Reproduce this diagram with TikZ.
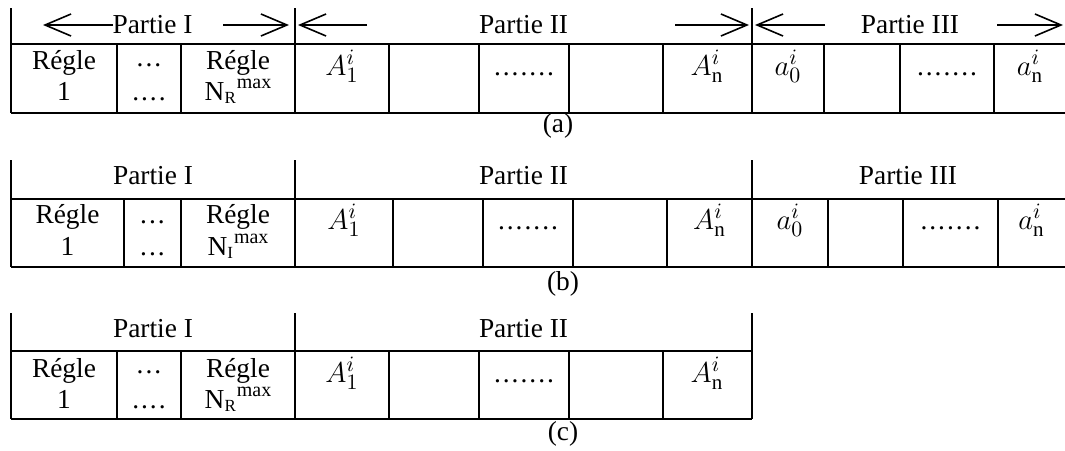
\documentclass[tikz,border=0pt]{standalone}
\usepackage{fontspec}
\setmainfont{Liberation Serif}
\usepackage{tikz}
\usetikzlibrary{
  positioning,
  arrows.meta
}
\DeclareMathSizes{13.7}{13.7}{10.5}{8}
\tikzset{
  grid/.style={line width=1.2pt},
  cell/.style={inner sep=0pt,anchor=base,font=\fontsize{13.7}{15}\selectfont},
  part/.style={inner sep=0pt,anchor=base,font=\fontsize{13.7}{15}\selectfont},
  span/.style={-{Straight Barb[length=13pt,width=11pt]},line width=0.8pt}
}
\newcommand{\Nmax}[1]{N\raisebox{-1.5pt}{\fontsize{8.5}{9}\selectfont #1}\kern0.5pt\raisebox{6pt}{\fontsize{10}{10}\selectfont max}}
\newcommand{\dotsthree}{.\kern1pt.\kern1pt.}
\newcommand{\dotsfour}{\dotsthree\kern1pt.}
\newcommand{\dotsseven}{\dotsfour\kern1pt\dotsthree}

\begin{document}
\begin{tikzpicture}[x=0.5pt,y=-0.5pt]
  \useasboundingbox (0,0) rectangle (1065,450);
  % (a) avec fleches
  \draw[grid] (11,8) -- (11,113) (295,8) -- (295,113) (752,8) -- (752,113);
  \draw[grid] (11,44) -- (1065,44) (11,113) -- (1065,113);
  \foreach \x in {117,181,389,479,569,663,824,900,994}
    \draw[grid] (\x,44) -- (\x,113);
  \node[part] (aP1) at (152.5,33) {Partie I};
  \node[part] (aP2) at (523.5,33) {Partie II};
  \node[part] (aP3) at (910,33) {Partie III};
  \coordinate (aP1a) at (113,25); \coordinate (aP1b) at (43,25);
  \coordinate (aP1c) at (223,25); \coordinate (aP1d) at (289,25);
  \coordinate (aP2a) at (367,25); \coordinate (aP2b) at (298,25);
  \coordinate (aP2c) at (675,25); \coordinate (aP2d) at (749,25);
  \coordinate (aP3a) at (825,25); \coordinate (aP3b) at (755,25);
  \coordinate (aP3c) at (997,25); \coordinate (aP3d) at (1063,25);
  \draw[span] (aP1a) -- (aP1b);
  \draw[span] (aP1c) -- (aP1d);
  \draw[span] (aP2a) -- (aP2b);
  \draw[span] (aP2c) -- (aP2d);
  \draw[span] (aP3a) -- (aP3b);
  \draw[span] (aP3c) -- (aP3d);
  \node[cell] (aR1) at (64,69) {Régle};
  \node[cell] (aR1b) at (64,100) {1};
  \node[cell] (aD) at (149,66) {\dotsthree};
  \node[cell] (aDb) at (149,100) {\dotsfour};
  \node[cell] (aRm) at (238,69) {Régle};
  \node[cell] (aRmb) at (238,100) {\Nmax{R}};
  \node[cell] (aA1) at (342,75) {$A_1^i$};
  \node[cell] (aDd) at (524,75) {\dotsseven};
  \node[cell] (aAn) at (707,75) {$A_{\mathrm{n}}^i$};
  \node[cell] (aa0) at (788,75) {$a_0^i$};
  \node[cell] (aDe) at (947,75) {\dotsseven};
  \node[cell] (aan) at (1030,75) {$a_{\mathrm{n}}^i$};
  \node[part] (la) at (558,132) {(a)};

  % (b)
  \draw[grid] (11,160) -- (11,267) (295,160) -- (295,267) (752,160) -- (752,267);
  \draw[grid] (11,199) -- (1065,199) (11,267) -- (1065,267);
  \foreach \x in {124,181,393,483,573,667,828,903,998}
    \draw[grid] (\x,199) -- (\x,267);
  \node[part] (bP1) at (153,184) {Partie I};
  \node[part] (bP2) at (523.5,184) {Partie II};
  \node[part] (bP3) at (908,184) {Partie III};
  \node[cell] (bR1) at (67.5,223) {Régle};
  \node[cell] (bR1b) at (67.5,255) {1};
  \node[cell] (bD) at (152.5,223) {\dotsthree};
  \node[cell] (bDb) at (152.5,255) {\dotsthree};
  \node[cell] (bRm) at (238,223) {Régle};
  \node[cell] (bRmb) at (238,255) {\Nmax{I}};
  \node[cell] (bA1) at (344,229) {$A_1^i$};
  \node[cell] (bDd) at (528,229) {\dotsseven};
  \node[cell] (bAn) at (709.5,229) {$A_{\mathrm{n}}^i$};
  \node[cell] (ba0) at (790,229) {$a_0^i$};
  \node[cell] (bDe) at (950.5,229) {\dotsseven};
  \node[cell] (ban) at (1031.5,229) {$a_{\mathrm{n}}^i$};
  \node[part] (lb) at (563,290) {(b)};

  % (c)
  \draw[grid] (11,313) -- (11,419) (295,313) -- (295,419) (752,313) -- (752,419);
  \draw[grid] (11,351) -- (752,351) (11,419) -- (752,419);
  \foreach \x in {117,181,389,479,569,663}
    \draw[grid] (\x,351) -- (\x,419);
  \node[part] (cP1) at (153,337) {Partie I};
  \node[part] (cP2) at (523.5,337) {Partie II};
  \node[cell] (cR1) at (64,377) {Régle};
  \node[cell] (cR1b) at (64,408) {1};
  \node[cell] (cD) at (149,373) {\dotsthree};
  \node[cell] (cDb) at (149,408) {\dotsfour};
  \node[cell] (cRm) at (238,377) {Régle};
  \node[cell] (cRmb) at (238,408) {\Nmax{R}};
  \node[cell] (cA1) at (342,382) {$A_1^i$};
  \node[cell] (cDd) at (524,382) {\dotsseven};
  \node[cell] (cAn) at (707,382) {$A_{\mathrm{n}}^i$};
  \node[part] (lc) at (563,440) {(c)};
\end{tikzpicture}
\end{document}
